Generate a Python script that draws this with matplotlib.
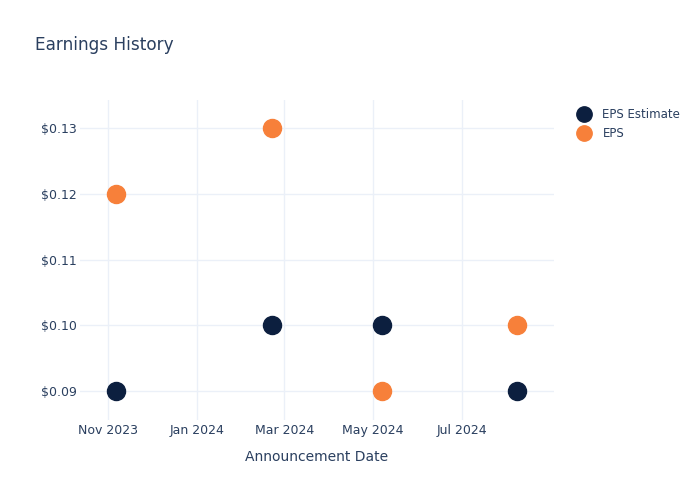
import matplotlib.pyplot as plt
import matplotlib.dates as mdates
import pandas as pd

dates = pd.to_datetime(["2023-11-07", "2024-02-22", "2024-05-07", "2024-08-08"])
eps_estimate = [0.09, 0.10, 0.10, 0.09]
eps_actual = [0.12, 0.13, 0.09, 0.10]

text_color = "#2a3f5f"
navy = "#0c1f3f"
orange = "#f7803a"

fig = plt.figure(figsize=(7, 5), dpi=100)
ax = fig.add_axes([0.1143, 0.16, 0.677, 0.64])

ax.plot(dates, eps_estimate, "o", ms=13, color=navy, label="EPS Estimate", zorder=3)
ax.plot(dates, eps_actual, "o", ms=13, color=orange, label="EPS", zorder=3)

ax.set_xlim(pd.Timestamp("2023-10-13"), pd.Timestamp("2024-09-02"))
ax.set_ylim(0.0856, 0.1343)
ax.set_yticks([0.09, 0.10, 0.11, 0.12, 0.13])
ax.yaxis.set_major_formatter(plt.FuncFormatter(lambda v, p: f"${v:.2f}"))
ax.xaxis.set_major_locator(mdates.MonthLocator(bymonth=[1, 3, 5, 7, 11]))
ax.xaxis.set_major_formatter(mdates.DateFormatter("%b %Y"))

ax.grid(True, color="#ebf0f8", lw=1)
ax.set_axisbelow(True)
for s in ax.spines.values():
    s.set_visible(False)
ax.tick_params(length=0, labelsize=9, labelcolor=text_color)
ax.tick_params(axis="y", pad=2)
ax.tick_params(axis="x", pad=3)

ax.set_xlabel("Announcement Date", fontsize=10, color=text_color, labelpad=9.5)
fig.text(0.05, 0.91, "Earnings History", fontsize=12.2, color=text_color, va="center")

fig.legend(loc="upper left", bbox_to_anchor=(0.81, 0.794), frameon=False,
           fontsize=8.5, labelcolor=text_color, handletextpad=0.6,
           labelspacing=0.55, borderaxespad=0, markerscale=0.85)

fig.savefig("out.png")
